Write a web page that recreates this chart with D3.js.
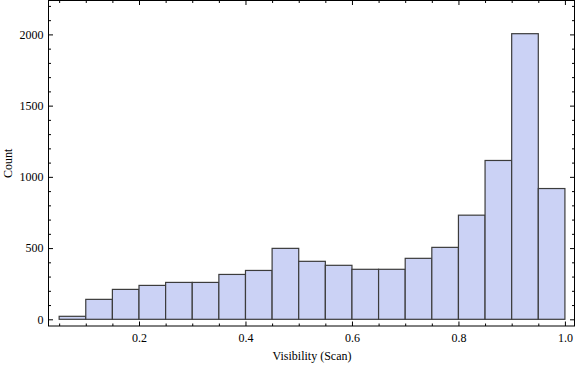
<!DOCTYPE html>
<html>
<head>
<meta charset="utf-8">
<script src="https://cdn.jsdelivr.net/npm/d3@7"></script>
<style>
  body{margin:0;background:#fff;}
  svg text{font-family:"Liberation Serif","DejaVu Serif",serif;font-size:12px;fill:#000;}
</style>
</head>
<body>
<svg id="canvas" width="576" height="366"></svg>
<script>
// histogram bins (lower edge, upper edge) and counts
let binLo=[0.05,0.10,0.15,0.20,0.25,0.30,0.35,0.40,0.45,0.50,0.55,0.60,0.65,0.70,0.75,0.80,0.85,0.90,0.95];
let binHi=[0.10,0.15,0.20,0.25,0.30,0.35,0.40,0.45,0.50,0.55,0.60,0.65,0.70,0.75,0.80,0.85,0.90,0.95,1.00];
let counts=[21,140,210,238,259,259,315,343,498,407,379,351,351,428,505,731,1115,2005,918];
let xTicks=[0.2,0.4,0.6,0.8,1.0];
let xMinor=[0.05,0.1,0.15,0.25,0.3,0.35,0.45,0.5,0.55,0.65,0.7,0.75,0.85,0.9,0.95];
let yTicks=[0,500,1000,1500,2000];
let yMinor=[100,200,300,400,600,700,800,900,1100,1200,1300,1400,1600,1700,1800,1900,2100,2200];

let canvas=d3.select("#canvas");
let fLeft=48.5, fRight=574.5, fTop=0.5, fBottom=326;

let xScale=d3.scaleLinear().domain([0.03,1.018]).range([fLeft,fRight]);
let yScale=d3.scaleLinear().domain([-47,2238]).range([fBottom,fTop]);

let data=counts.map((c,i)=>[binLo[i],binHi[i],c]);

// bars
canvas.append("g").selectAll("rect").data(data).enter().append("rect")
  .attr("x",d=>xScale(d[0])).attr("width",d=>xScale(d[1])-xScale(d[0]))
  .attr("y",d=>yScale(d[2])).attr("height",d=>yScale(0)-yScale(d[2]))
  .attr("fill","#cbd2f5").attr("stroke","#3c3c3c").attr("stroke-width",1.2);

// frame ticks, pointing inward on all four sides
let fmtX=d3.format(".1f");
let addAxis=(axis,tx,ty,noLabels)=>{
  let g=canvas.append("g").attr("transform",`translate(${tx},${ty})`).call(axis);
  g.attr("font-family",null).attr("font-size",null);
  g.select(".domain").remove();
  g.selectAll("line").attr("stroke","#000");
  g.selectAll("text").attr("fill","#000");
  if(noLabels) g.selectAll("text").remove();
  return g;
};
addAxis(d3.axisBottom(xScale).tickValues(xTicks).tickFormat(fmtX).tickSizeInner(-4.5).tickSizeOuter(0).tickPadding(7),0,fBottom);
addAxis(d3.axisBottom(xScale).tickValues(xMinor).tickSizeInner(-2.5).tickSizeOuter(0),0,fBottom,true);
addAxis(d3.axisTop(xScale).tickValues(xTicks).tickSizeInner(-4.5).tickSizeOuter(0),0,fTop,true);
addAxis(d3.axisTop(xScale).tickValues(xMinor).tickSizeInner(-2.5).tickSizeOuter(0),0,fTop,true);
addAxis(d3.axisLeft(yScale).tickValues(yTicks).tickFormat(d3.format("d")).tickSizeInner(-4.5).tickSizeOuter(0).tickPadding(5),fLeft,0);
addAxis(d3.axisLeft(yScale).tickValues(yMinor).tickSizeInner(-2.5).tickSizeOuter(0),fLeft,0,true);
addAxis(d3.axisRight(yScale).tickValues(yTicks).tickSizeInner(-4.5).tickSizeOuter(0),fRight,0,true);
addAxis(d3.axisRight(yScale).tickValues(yMinor).tickSizeInner(-2.5).tickSizeOuter(0),fRight,0,true);

// frame
canvas.append("rect").attr("x",fLeft).attr("y",fTop).attr("width",fRight-fLeft).attr("height",fBottom-fTop)
  .attr("fill","none").attr("stroke","#000").attr("stroke-width",1);

// axis titles
canvas.append("text").text("Visibility (Scan)").attr("x",(fLeft+fRight)/2+0.5).attr("y",360).attr("text-anchor","middle");
canvas.append("text").text("Count").attr("transform",`translate(12,${(fTop+fBottom)/2})rotate(-90)`).attr("text-anchor","middle");
</script>
</body>
</html>
